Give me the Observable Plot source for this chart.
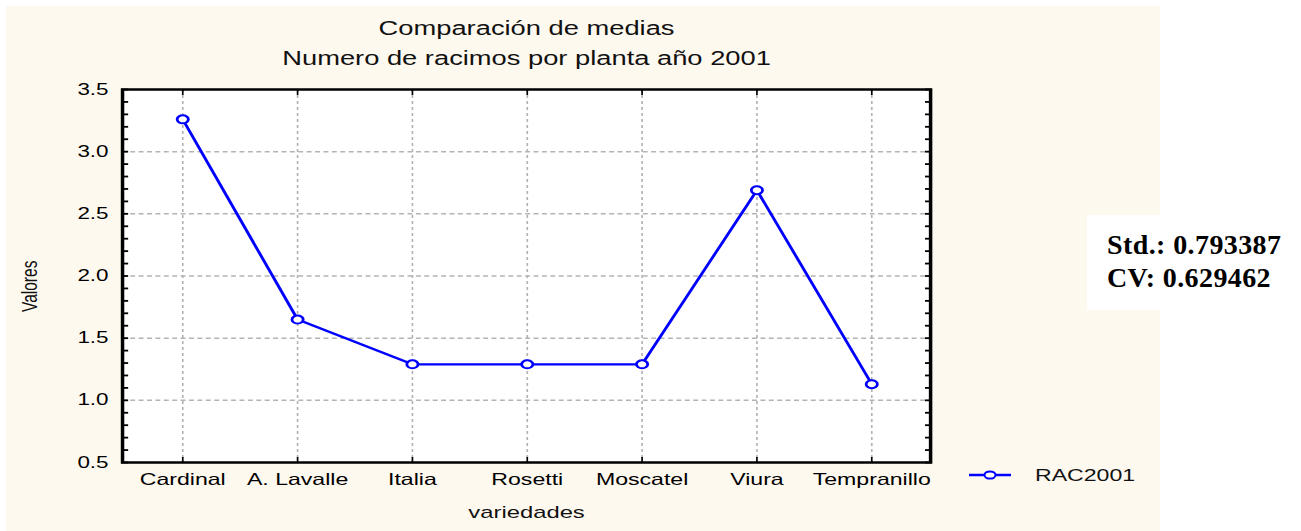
<!DOCTYPE html>
<html>
<head>
<meta charset="utf-8">
<script src="https://cdn.jsdelivr.net/npm/d3@7"></script>
<script src="https://cdn.jsdelivr.net/npm/@observablehq/plot@0.6"></script>
<style>
  html, body { margin: 0; padding: 0; background: #ffffff; }
  #wrap { position: relative; width: 1301px; height: 531px; overflow: hidden; font-family: "Liberation Sans", Arial, sans-serif; }
  #bg { position: absolute; left: 6px; top: 6px; width: 1154px; height: 525px; background: #fef9ef; }
  #chart { position: absolute; left: 0; top: 0; }
  #stats { position: absolute; left: 1087px; top: 215px; width: 214px; height: 95px; background: #ffffff; }
  #stats div { position: absolute; left: 20px; font-family: "Liberation Serif", "Times New Roman", serif; font-weight: bold; font-size: 28px; letter-spacing: 0.4px; color: #000; white-space: nowrap; }
  #legend { position: absolute; left: 969px; top: 465px; height: 20px; display: flex; align-items: center; }
  #legend span { display: inline-block; margin-left: 24px; font-size: 16.5px; transform: scaleX(1.4); transform-origin: left center; color: #111; }
</style>
</head>
<body>
<div id="wrap">
  <div id="bg"></div>
  <div id="chart"></div>
  <div id="stats"></div>
  <div id="legend"></div>
</div>
<script>
// ---- data ----
const categories = ["Cardinal", "A. Lavalle", "Italia", "Rosetti", "Moscatel", "Viura", "Tempranillo"];
const values = [3.26, 1.65, 1.29, 1.29, 1.29, 2.69, 1.13];
const seriesName = "RAC2001";
const yMajorTicks = [0.5, 1.0, 1.5, 2.0, 2.5, 3.0, 3.5];
const yGridTicks = [1.0, 1.5, 2.0, 2.5, 3.0];
const yMinorTicks = [0.5, 0.6, 0.7, 0.8, 0.9, 1.0, 1.1, 1.2, 1.3, 1.4, 1.5, 1.6, 1.7, 1.8, 1.9, 2.0, 2.1, 2.2, 2.3, 2.4, 2.5, 2.6, 2.7, 2.8, 2.9, 3.0, 3.1, 3.2, 3.3, 3.4, 3.5];
const yDomain = [0.5, 3.5];
const titleText = "Comparación de medias";
const subtitleText = "Numero de racimos por planta año 2001";
const xLabelText = "variedades";
const yLabelText = "Valores";
const statsLines = ["Std.: 0.793387", "CV: 0.629462"];

const data = categories.map((c, i) => ({variedad: c, valor: values[i]}));

// The reference is horizontally stretched: draw in a narrower viewBox and stretch.
const DISPLAY_W = 1301, H = 531, STRETCH = 1.4;
const W = Math.round(DISPLAY_W / STRETCH);
const blue = "#0000ff";

const chart = Plot.plot({
  width: W,
  height: H,
  marginLeft: 87,
  marginRight: W - 664,
  marginTop: 89,
  marginBottom: 69,
  style: {background: "none", fontFamily: "Liberation Sans, Arial, sans-serif", color: "#000", overflow: "visible"},
  x: {type: "point", domain: categories, padding: 0.5},
  y: {domain: yDomain},
  marks: [
    Plot.frame({fill: "#ffffff", stroke: null}),
    Plot.gridY(yGridTicks, {stroke: "#b4b4b4", strokeOpacity: 1, strokeWidth: 1.5, strokeDasharray: "3.5,2.5"}),
    Plot.gridX({stroke: "#b4b4b4", strokeOpacity: 1, strokeWidth: 1.2, strokeDasharray: "3,3"}),
    Plot.axisY({ticks: yMajorTicks, tickFormat: d3.format(".1f"), tickSize: 0, tickPadding: 10, fontSize: 16, label: null}),
    Plot.axisY({ticks: yMinorTicks, tickSize: -4.5, text: null, strokeWidth: 1.8, label: null}),
    Plot.axisY({anchor: "right", ticks: yMinorTicks, tickSize: -4.5, text: null, strokeWidth: 1.8, label: null}),
    Plot.axisX({anchor: "top", tickSize: -5, text: null, strokeWidth: 1.2, label: null}),
    Plot.axisX({anchor: "bottom", tickSize: -5, text: null, strokeWidth: 1.2, label: null}),
    Plot.axisX({anchor: "bottom", tickSize: 0, tickPadding: 11, fontSize: 16.5, label: null}),
    Plot.frame({stroke: "#000", strokeWidth: 2.5}),
    Plot.line(data, {x: "variedad", y: "valor", stroke: blue, strokeWidth: 2.2}),
    Plot.dot(data, {x: "variedad", y: "valor", r: 4, stroke: blue, strokeWidth: 2, fill: "#ffffff"}),
    Plot.text([titleText], {text: d => d, frameAnchor: "top", dy: -68, fontSize: 19.5, fill: "#111"}),
    Plot.text([subtitleText], {text: d => d, frameAnchor: "top", dy: -38, fontSize: 19.5, fill: "#111"}),
    Plot.text([xLabelText], {text: d => d, frameAnchor: "bottom", dy: 55, fontSize: 17, fill: "#111"}),
    Plot.text([yLabelText], {text: d => d, frameAnchor: "left", rotate: -90, dx: -66, dy: 36, fontSize: 15.5, fill: "#111"})
  ]
});

chart.setAttribute("viewBox", `0 0 ${W} ${H}`);
chart.setAttribute("preserveAspectRatio", "none");
chart.setAttribute("width", DISPLAY_W);
chart.setAttribute("height", H);
chart.style.width = DISPLAY_W + "px";
chart.style.height = H + "px";
chart.style.maxWidth = "none";
document.getElementById("chart").appendChild(chart);

// Stats box
const stats = document.getElementById("stats");
statsLines.forEach((t, i) => {
  const d = document.createElement("div");
  d.textContent = t;
  d.style.top = (14 + i * 33) + "px";
  stats.appendChild(d);
});

// Legend
const legend = document.getElementById("legend");
legend.innerHTML = `<svg width="42" height="12"><line x1="0" x2="42" y1="6" y2="6" stroke="${blue}" stroke-width="2.4"/><ellipse cx="21" cy="6" rx="5.5" ry="3.6" fill="#fff" stroke="${blue}" stroke-width="2"/></svg>`;
const sp = document.createElement("span");
sp.textContent = seriesName;
legend.appendChild(sp);
</script>
</body>
</html>
